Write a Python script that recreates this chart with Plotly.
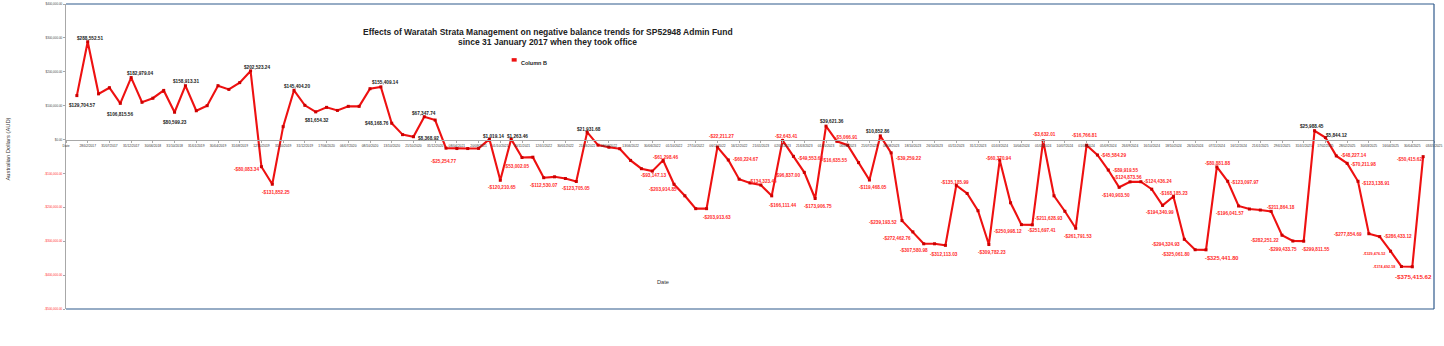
import plotly.graph_objects as go

# ---- data -------------------------------------------------------------
# Admin Fund balance per statement date (category index 1..125; index 0 is the "Date" header)
balances = [
    129704.57, 288552.51, 135000, 153000, 106815.56, 182979.04, 110000, 122000, 145000, 80599.23,
    158913.31, 85000, 100000, 159000, 148000, 168000, 202523.24, -80083.34, -131852.25, 38000,
    145404.20, 101000, 81654.32, 95000, 86000, 98000, 98000, 150000, 155409.14, 48168.76,
    14500, 8368.92, 67347.74, 57500, -25254.77, -26500, -26500, -26000, 1019.14, -120210.65,
    1263.46, -53002.05, -52000, -112530.07, -110000, -115000, -123705.05, 21931.68, -16500, -22500,
    -27000, -61500, -86000, -93147.13, -61298.46, -132000, -166000, -203914.85, -203913.63, -22211.27,
    -60224.67, -117000, -128000, -134323.44, -166111.44, -2643.41, -49553.63, -96837.00, -173906.75, 39621.36,
    -5066.91, -16635.55, -68000, -119468.05, 10852.86, -39259.22, -239193.52, -272462.76, -307580.98, -307600,
    -312113.03, -135185.99, -159000, -210000, -309782.23, -60370.94, -186500, -250998.12, -251697.41, -3632.01,
    -166000, -211628.93, -261791.53, -16766.81, -45584.29, -89919.55, -140903.50, -124873.56, -124436.24, -146500,
    -194340.99, -168185.23, -294324.93, -325061.80, -325441.80, -80881.88, -123097.97, -196041.57, -205000, -208000,
    -211864.18, -282251.22, -299433.75, -299811.55, 25988.45, 5844.12, -48227.14, -70211.98, -123138.91, -277854.69,
    -286433.12, -329476.52, -374492.58, -375415.62, -50415.62,
]
categories = list(range(1, len(balances) + 1))

# date labels shown on every second category (0, 2, 4, ... 126)
date_ticks = [
    "Date", "28/02/2017", "31/07/2017", "31/12/2017", "30/06/2018", "31/10/2018", "31/01/2019", "30/04/2019",
    "31/08/2019", "12/10/2019", "31/10/2019", "31/12/2019", "17/06/2020", "06/07/2020", "08/10/2020", "13/10/2020",
    "21/10/2020", "31/12/2020", "08/04/2021", "20/09/2021", "01/10/2021", "30/11/2021", "12/01/2022", "30/01/2022",
    "21/03/2022", "08/04/2022", "13/06/2022", "30/06/2022", "01/10/2022", "27/10/2022", "06/11/2022", "16/12/2022",
    "21/01/2023", "02/02/2023", "21/03/2023", "01/05/2023", "06/06/2023", "21/07/2023", "08/08/2023", "18/10/2023",
    "26/10/2023", "01/11/2023", "31/12/2023", "01/03/2024", "10/04/2024", "01/05/2024", "10/07/2024", "01/08/2024",
    "05/09/2024", "26/09/2024", "16/10/2024", "18/10/2024", "26/10/2024", "07/11/2024", "16/12/2024", "21/01/2025",
    "29/01/2025", "31/01/2025", "17/02/2025", "28/02/2025", "30/03/2025", "16/04/2025", "30/04/2025", "03/05/2025",
]

y_ticks = [400000, 300000, 200000, 100000, 0, -100000, -200000, -300000, -400000, -500000]

# categories that carry a value label
labelled = [1, 2, 5, 6, 10, 11, 17, 18, 19, 21, 23, 29, 30, 32, 33, 35, 39, 40, 41, 42, 44, 47, 48, 54, 55,
            58, 59, 60, 61, 64, 65, 66, 67, 68, 69, 70, 71, 72, 74, 75, 76, 77, 78, 79, 81, 82, 85, 86, 88, 89,
            90, 92, 93, 94, 95, 96, 97, 98, 99, 101, 102, 103, 104, 105, 106, 107, 108, 111, 112, 113, 114, 115,
            116, 117, 118, 119, 120, 121, 122, 123, 124, 125]

# ---- label placement (pixel offsets from the point) ----------------------
label_offset = {
    1: (5, -10), 2: (2, 3), 5: (0, -11), 6: (9, 4), 10: (0, -10), 11: (1, 4), 17: (6, 3), 18: (-15, -3),
    19: (4, -8), 21: (3, 4), 23: (1, -9), 29: (4, 4), 30: (-15, 0), 32: (15, -2), 33: (0, 3), 35: (-3, -13),
    39: (4, 3), 40: (2, -7), 41: (6, 3), 42: (-6, -9), 44: (0, -8), 47: (0, -7), 48: (2, 3), 54: (1, -4),
    55: (2, 3), 58: (-33, 19), 59: (10, -9), 60: (4, 11), 61: (17, 0), 64: (2, 4), 65: (11, -10), 66: (4, 4),
    67: (17, -2), 68: (-17, -3), 69: (3, -8), 70: (6, 5), 71: (10, 4), 72: (-13, -15), 74: (4, -7), 75: (-2, 4),
    76: (17, -6), 77: (-19, -2), 78: (-16, -7), 79: (-10, -7), 81: (-1, -9), 82: (-1, 3), 85: (3, -8),
    86: (-1, 2), 88: (-13, -7), 89: (10, -6), 90: (1, 6), 92: (-16, -7), 93: (2, -8), 94: (-2, 10),
    95: (16, 0), 96: (17, 0), 97: (-3, -8), 98: (-2, 4), 99: (17, 0), 101: (-3, -7), 102: (1, 3),
    103: (-18, -5), 104: (-19, -5), 105: (16, -8), 106: (1, 3), 107: (17, -1), 108: (-9, -8), 111: (10, 4),
    112: (-17, -5), 113: (-10, -8), 114: (12, -8), 115: (-3, 4), 116: (11, 2), 117: (17, 0), 118: (16, -1),
    119: (18, -2), 120: (-21, -1), 121: (18, 0), 122: (-17, -3), 123: (-17, -1), 124: (1, -10), 125: (-14, -3),
}
label_size = {105: 5.7, 124: 6.2, 122: 3.8, 123: 3.8}

FONT = "Liberation Sans"
LINE_RED = "#ee1111"
NEG_RED = "#ff2a2a"
DARK = "#222222"

# plot-area edges in pixels, used to place titles and legend in paper units
PL, PR, PT, PB = 66, 1435, 2, 309


def px_x(px):
    return (px - PL) / (PR - PL)


def px_y(py):
    return (PB - py) / (PB - PT)


def money(v):
    s = f"${abs(v):,.2f}"
    return "-" + s if v < 0 else s


fig = go.Figure()
fig.add_trace(go.Scatter(
    x=categories, y=balances, mode="lines+markers", name="Column B",
    line=dict(color=LINE_RED, width=2.1),
    marker=dict(color="#cc0000", size=3, symbol="square"),
    showlegend=False, hoverinfo="x+y",
))

annotations = []
for c in labelled:
    v = balances[c - 1]
    dx, dy = label_offset.get(c, (0, 0))
    annotations.append(dict(
        x=c, y=v, xref="x", yref="y", text=money(v), showarrow=False,
        xshift=dx, yshift=dy, xanchor="center", yanchor="middle",
        font=dict(family=FONT, size=label_size.get(c, 4.7), color=NEG_RED if v < 0 else DARK, weight="bold"),
    ))

# chart title
annotations.append(dict(
    x=px_x(548), y=px_y(30.5), xref="paper", yref="paper", showarrow=False, xanchor="center", yanchor="middle",
    text="Effects of Waratah Strata Management on negative balance trends for SP52948 Admin Fund",
    font=dict(family=FONT, size=8.5, color=DARK, weight="bold"),
))
annotations.append(dict(
    x=px_x(548), y=px_y(40), xref="paper", yref="paper", showarrow=False, xanchor="center", yanchor="middle",
    text="since 31 January 2017 when they took office",
    font=dict(family=FONT, size=8.5, color=DARK, weight="bold"),
))
# legend text
annotations.append(dict(
    x=px_x(519), y=px_y(61), xref="paper", yref="paper", showarrow=False, xanchor="left", yanchor="middle",
    text="Column B", font=dict(family=FONT, size=5.5, color=DARK, weight="bold"),
))
# axis titles
annotations.append(dict(
    x=px_x(663), y=px_y(282), xref="paper", yref="paper", showarrow=False, xanchor="center", yanchor="middle",
    text="Date", font=dict(family=FONT, size=5.7, color="#333333"),
))
annotations.append(dict(
    x=px_x(8.5), y=px_y(148), xref="paper", yref="paper", showarrow=False, xanchor="center", yanchor="middle",
    text="Australian Dollars (AUD)", textangle=-90, font=dict(family=FONT, size=5.8, color="#333333"),
))

shapes = [
    # plot frame (top, bottom, right)
    dict(type="line", xref="paper", yref="paper", x0=0, x1=1, y0=1, y1=1, line=dict(color="#2f5a8c", width=1.2)),
    dict(type="line", xref="paper", yref="paper", x0=0, x1=1, y0=0, y1=0, line=dict(color="#2f5a8c", width=1.2)),
    dict(type="line", xref="paper", yref="paper", x0=1, x1=1, y0=0, y1=1, line=dict(color="#2f5a8c", width=1.2)),
    # legend key
    dict(type="rect", xref="paper", yref="paper", x0=px_x(512), x1=px_x(517), y0=px_y(60), y1=px_y(56.5),
         line=dict(width=0), fillcolor=LINE_RED),
]

y_ticktext = [
    f'<span style="color:{NEG_RED}">{money(v)}</span>' if v < 0 else money(v) for v in y_ticks
]

fig.update_layout(
    width=1444, height=346,
    margin=dict(l=PL, r=1444 - PR, t=PT, b=346 - PB),
    paper_bgcolor="white", plot_bgcolor="white",
    font=dict(family=FONT, color=DARK),
    showlegend=False,
    annotations=annotations,
    shapes=shapes,
    xaxis=dict(
        range=[0, 126], tickmode="array",
        tickvals=list(range(0, 127, 2)), ticktext=date_ticks,
        tickangle=0, tickfont=dict(family=FONT, size=3.3, color="#333333"),
        showgrid=False, zeroline=False,
        showline=True, linecolor="#a8a8a8", linewidth=1,
        ticks="outside", ticklen=2, tickcolor="#a8a8a8",
        anchor="free", position=5 / 9,
    ),
    yaxis=dict(
        range=[-500000, 400000], tickmode="array",
        tickvals=y_ticks, ticktext=y_ticktext,
        tickfont=dict(family=FONT, size=3, color="#444444"),
        showgrid=False, zeroline=False,
        showline=True, linecolor="#a8a8a8", linewidth=1.2,
        ticks="outside", ticklen=2, tickcolor="#a8a8a8",
    ),
)

fig.write_html("out.html")
